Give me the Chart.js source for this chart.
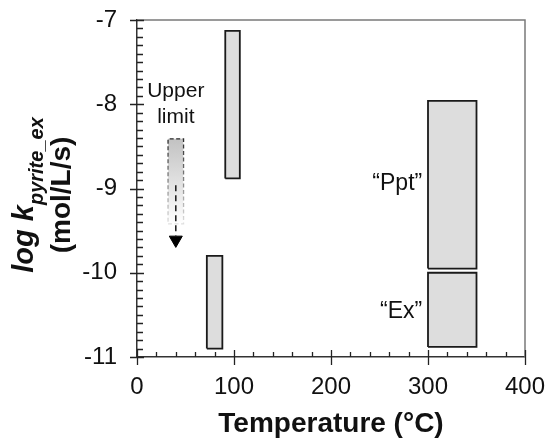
<!DOCTYPE html>
<html>
<head>
<meta charset="utf-8">
<script src="https://cdn.jsdelivr.net/npm/chart.js@4/dist/chart.umd.min.js"></script>
<style>
html,body{margin:0;padding:0;background:#ffffff;}
#wrap{width:549px;height:440px;}
</style>
</head>
<body>
<div id="wrap"><canvas id="c" width="549" height="440"></canvas></div>
<script>
// ---- data ----
const xTickValues = [0, 100, 200, 300, 400];
const yTickValues = [-11, -10, -9, -8, -7];
const xMinorStep = 20;
const yMinorStep = 0.1;

// measured ranges: temperature (°C) and log k (mol/L/s)
const rectNames = ['low T', '100 °C', 'Ppt', 'Ex'];
const rectTmin  = [72, 91, 300, 300];
const rectTmax  = [88, 106, 350, 350];
const rectKlow  = [-10.9, -8.88, -9.95, -10.88];
const rectKhigh = [-9.8, -7.13, -7.96, -10.0];

// upper limit box and arrow
const limitT = [32, 48];
const limitK = [-9.42, -8.41];
const arrowT = 40;
const arrowK = [-8.96, -9.56];
const arrowHeadK = -9.61;

// text annotations (data coordinates)
const noteText  = ['Upper', 'limit', '\u201CPpt\u201D', '\u201CEx\u201D'];
const noteT     = [40, 40, 294, 294];
const noteK     = [-7.91, -8.22, -9.02, -10.54];
const noteAlign = ['center', 'center', 'right', 'right'];

const FONT = '"Liberation Sans", Arial, Helvetica, sans-serif';

// ---- datasets ----
const datasets = [];
for (let i = 0; i < rectNames.length; i++) {
  datasets.push({
    label: rectNames[i] + ' fill',
    data: [{x: rectTmin[i], y: rectKhigh[i]}, {x: rectTmax[i], y: rectKhigh[i]}],
    borderWidth: 0,
    pointRadius: 0,
    showLine: true,
    backgroundColor: '#dddddd',
    fill: {value: rectKlow[i]},
    order: 2
  });
  datasets.push({
    label: rectNames[i],
    data: [
      {x: rectTmin[i], y: rectKlow[i]}, {x: rectTmax[i], y: rectKlow[i]},
      {x: rectTmax[i], y: rectKhigh[i]}, {x: rectTmin[i], y: rectKhigh[i]},
      {x: rectTmin[i], y: rectKlow[i]}
    ],
    borderColor: '#1a1a1a',
    borderWidth: 1.8,
    pointRadius: 0,
    showLine: true,
    fill: false,
    order: 0
  });
}

function vGrad(ctx, kTop, kBottom, cTop, cBottom) {
  const chart = ctx.chart;
  if (!chart.chartArea) return cTop;
  const ys = chart.scales.y;
  const g = chart.ctx.createLinearGradient(0, ys.getPixelForValue(kTop), 0, ys.getPixelForValue(kBottom));
  g.addColorStop(0, cTop);
  g.addColorStop(1, cBottom);
  return g;
}

datasets.push({
  label: 'upper limit fill',
  data: [{x: limitT[0], y: limitK[1]}, {x: limitT[1], y: limitK[1]}],
  borderWidth: 0, pointRadius: 0, showLine: true,
  backgroundColor: (ctx) => vGrad(ctx, limitK[1], limitK[0], '#c2c2c2', '#ffffff'),
  fill: {value: limitK[0]},
  order: 2
});
datasets.push({
  label: 'upper limit',
  data: [
    {x: limitT[0], y: limitK[0]}, {x: limitT[1], y: limitK[0]},
    {x: limitT[1], y: limitK[1]}, {x: limitT[0], y: limitK[1]},
    {x: limitT[0], y: limitK[0]}
  ],
  borderColor: (ctx) => vGrad(ctx, limitK[1], limitK[0], '#2a2a2a', '#e0e0e0'),
  borderWidth: 1.3, borderDash: [4, 2.5], pointRadius: 0, showLine: true, fill: false,
  order: 0
});
datasets.push({
  label: 'arrow shaft',
  data: [{x: arrowT, y: arrowK[0]}, {x: arrowT, y: arrowK[1]}],
  borderColor: '#1a1a1a', borderWidth: 1.5, borderDash: [6, 4],
  pointRadius: 0, showLine: true, fill: false, order: 0
});
datasets.push({
  label: 'arrow head',
  data: [{x: arrowT, y: arrowHeadK}],
  showLine: false, pointStyle: 'triangle', rotation: 180, pointRadius: 7.5,
  pointBackgroundColor: '#000000', pointBorderColor: '#000000', pointBorderWidth: 1,
  order: 0
});

// ---- plugin: frame, minor ticks, y title, annotations ----
const decor = {
  id: 'decor',
  afterDatasetsDraw(chart) {
    const {ctx, chartArea: a, scales: {x, y}} = chart;
    ctx.save();
    // top & right frame
    ctx.strokeStyle = '#7a7a7a';
    ctx.lineWidth = 1.5;
    ctx.beginPath();
    ctx.moveTo(a.left, a.top); ctx.lineTo(a.right, a.top); ctx.lineTo(a.right, a.bottom);
    ctx.stroke();
    // ticks
    ctx.strokeStyle = '#222';
    ctx.lineWidth = 1.3;
    ctx.beginPath();
    const yMin = yTickValues[0], yMax = yTickValues[yTickValues.length - 1];
    const nY = Math.round((yMax - yMin) / yMinorStep);
    for (let i = 0; i <= nY; i++) {
      const v = yMin + i * yMinorStep;
      const p = Math.round(y.getPixelForValue(v)) + 0.5;
      if (i % 10 === 0) { ctx.moveTo(a.left - 7, p); ctx.lineTo(a.left + 7, p); }
      else { ctx.moveTo(a.left, p); ctx.lineTo(a.left + 6, p); }
    }
    const xMin = xTickValues[0], xMax = xTickValues[xTickValues.length - 1];
    const nX = Math.round((xMax - xMin) / xMinorStep);
    for (let i = 0; i <= nX; i++) {
      const v = xMin + i * xMinorStep;
      const p = Math.round(x.getPixelForValue(v)) + 0.5;
      if (i % 5 === 0) { ctx.moveTo(p, a.bottom - 7); ctx.lineTo(p, a.bottom + 8); }
      else { ctx.moveTo(p, a.bottom); ctx.lineTo(p, a.bottom - 5); }
    }
    ctx.stroke();
    // annotations
    ctx.fillStyle = '#111';
    ctx.textBaseline = 'alphabetic';
    for (let i = 0; i < noteText.length; i++) {
      ctx.font = (i < 2 ? '21px ' : '23px ') + FONT;
      ctx.textAlign = noteAlign[i];
      ctx.fillText(noteText[i], x.getPixelForValue(noteT[i]), y.getPixelForValue(noteK[i]));
    }
    // y-axis title (two lines, rotated, with subscript)
    const cy = 195;
    ctx.textAlign = 'left';
    const mainFont = 'italic bold 29px ' + FONT;
    const subFont = 'italic bold 20px ' + FONT;
    ctx.font = mainFont;
    const w1 = ctx.measureText('log k').width;
    ctx.font = subFont;
    const w2 = ctx.measureText('pyrite_ex').width;
    ctx.save();
    ctx.translate(33, cy);
    ctx.rotate(-Math.PI / 2);
    const start = -(w1 + w2) / 2;
    ctx.font = mainFont;
    ctx.fillText('log k', start, 0);
    ctx.font = subFont;
    ctx.fillText('pyrite_ex', start + w1, 10);
    ctx.restore();
    ctx.save();
    ctx.translate(70, cy);
    ctx.rotate(-Math.PI / 2);
    ctx.font = 'bold 28px ' + FONT;
    ctx.textAlign = 'center';
    ctx.fillText('(mol/L/s)', 0, 0);
    ctx.restore();
    ctx.restore();
  }
};

new Chart(document.getElementById('c'), {
  type: 'scatter',
  data: {datasets},
  options: {
    responsive: false,
    devicePixelRatio: 1,
    animation: false,
    layout: {padding: {top: 20, right: 24, bottom: 0, left: 0}},
    plugins: {legend: {display: false}, tooltip: {enabled: false}},
    scales: {
      x: {
        type: 'linear', min: 0, max: 400,
        afterFit: (s) => { s.height = 83; s.paddingLeft = 0; s.paddingRight = 0; },
        afterBuildTicks: (s) => { s.ticks = xTickValues.map(v => ({value: v})); },
        ticks: {color: '#111', font: {family: FONT, size: 24}, padding: 16},
        grid: {display: true, drawOnChartArea: false, drawTicks: false},
        border: {display: true, color: '#333', width: 1.5},
        title: {display: true, text: 'Temperature (°C)', color: '#111',
                font: {family: FONT, size: 28, weight: 'bold', lineHeight: 1.1}, padding: {top: 0, bottom: 0}}
      },
      y: {
        type: 'linear', min: -11, max: -7,
        afterFit: (s) => { s.width = 137; s.paddingTop = 0; s.paddingBottom = 0; },
        afterBuildTicks: (s) => { s.ticks = yTickValues.map(v => ({value: v})); },
        ticks: {color: '#111', font: {family: FONT, size: 24}, padding: 20},
        grid: {display: true, drawOnChartArea: false, drawTicks: false},
        border: {display: true, color: '#333', width: 1.5}
      }
    }
  },
  plugins: [decor]
});
</script>
</body>
</html>
